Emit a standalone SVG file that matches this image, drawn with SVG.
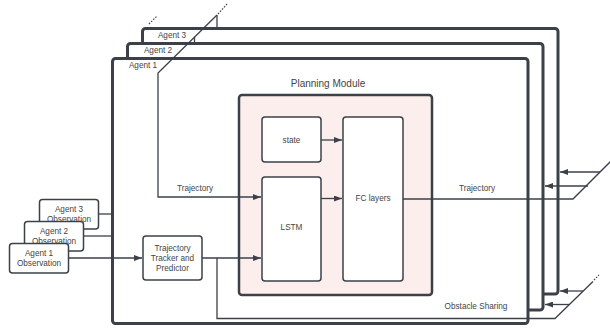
<svg xmlns="http://www.w3.org/2000/svg" width="610" height="328" viewBox="0 0 610 328">
<defs>
<style>
.frame{fill:#fff;stroke:#3b4049;stroke-width:3}
.box{fill:#fff;stroke:#3b4049;stroke-width:1.5}
.pm{fill:#fdeeee;stroke:#3b4049;stroke-width:2.5}
.ln{fill:none;stroke:#3b4049;stroke-width:1.3}
.dash{fill:none;stroke:#3b4049;stroke-width:1.2;stroke-dasharray:1.5 1.5}
text{font-family:"Liberation Sans",Arial,sans-serif;font-size:8.2px;fill:#444;text-anchor:middle}
</style>
<marker id="ah" markerWidth="8" markerHeight="6" refX="8" refY="3" orient="auto" markerUnits="userSpaceOnUse">
<path d="M0,0 L8,3 L0,6 Z" fill="#3b4049"/>
</marker>
</defs>
<rect width="610" height="328" fill="#fff"/>

<g id="agent3-frame"><rect class="frame" x="142.5" y="28.5" width="415.5" height="265.5" rx="3"/><text x="172" y="37.5">Agent 3</text></g>
<g id="agent2-frame"><rect class="frame" x="127.5" y="43.5" width="415.5" height="266.5" rx="3"/><text x="158" y="53">Agent 2</text></g>
<g id="agent1-frame"><rect class="frame" x="112.5" y="58.5" width="415.5" height="265" rx="3"/><text x="143" y="68">Agent 1</text></g>

<g id="planning-module">
<text x="328" y="86.5" style="font-size:10px">Planning Module</text>
<rect class="pm" x="239" y="95" width="193" height="200" rx="3"/>
</g>
<g id="state"><rect class="box" x="262" y="117" width="59" height="45" rx="3"/><text x="291.5" y="142.5">state</text></g>
<g id="lstm"><rect class="box" x="262" y="177" width="59" height="104" rx="3"/><text x="291.5" y="229.5">LSTM</text></g>
<g id="fc"><rect class="box" x="343" y="117" width="60" height="164" rx="3"/><text x="373" y="201">FC layers</text></g>

<g id="tracker"><rect class="box" x="143" y="236" width="59" height="44" rx="3"/>
<text x="172.5" y="251">Trajectory</text><text x="172.5" y="261">Tracker and</text><text x="172.5" y="271">Predictor</text></g>

<g id="obs3"><rect class="box" x="39.5" y="199.5" width="59" height="29.5" rx="3"/><text x="69" y="212">Agent 3</text><text x="69" y="222">Observation</text></g>
<g id="obs2"><rect class="box" x="24.5" y="221.5" width="59" height="29.5" rx="3"/><text x="54" y="234">Agent 2</text><text x="54" y="244">Observation</text></g>
<g id="obs1"><rect class="box" x="9.5" y="243.5" width="59" height="29.5" rx="3"/><text x="39" y="256">Agent 1</text><text x="39" y="266">Observation</text></g>

<g id="connectors">
<!-- top incoming trajectory -->
<path class="ln" d="M217,15 L158,73 L158,197 L261,197" marker-end="url(#ah)"/>
<path class="ln" d="M194.5,37 L194.5,43"/>
<path class="ln" d="M217,15 L217,28"/>
<path class="dash" d="M218,14 L227,4"/>
<path class="dash" d="M149,24 L157,16"/>
<text x="195" y="191">Trajectory</text>
<!-- internal -->
<path class="ln" d="M321,140 L342,140" marker-end="url(#ah)"/>
<path class="ln" d="M321,198.5 L342,198.5" marker-end="url(#ah)"/>
<!-- FC output -->
<path class="ln" d="M403,199 L573,199 L611,161"/>
<text x="477" y="191">Trajectory</text>
<path class="ln" d="M600,172 L560,172" marker-end="url(#ah)"/>
<path class="ln" d="M588,186 L545,186" marker-end="url(#ah)"/>
<!-- observations -->
<path class="ln" d="M98.5,214 L113,214"/>
<path class="ln" d="M83.5,236 L113,236"/>
<path class="ln" d="M68.5,258 L142,258" marker-end="url(#ah)"/>
<!-- tracker to LSTM -->
<path class="ln" d="M202,258 L261,258" marker-end="url(#ah)"/>
<!-- obstacle sharing -->
<path class="ln" d="M217,258 L217,318.5 L555,318.5 L593,281.5"/>
<path class="dash" d="M594,280 L599,275"/>
<text x="476" y="309">Obstacle Sharing</text>
<path class="ln" d="M583,291 L560,291" marker-end="url(#ah)"/>
<path class="ln" d="M569,304.5 L545,304.5" marker-end="url(#ah)"/>
</g>
</svg>
